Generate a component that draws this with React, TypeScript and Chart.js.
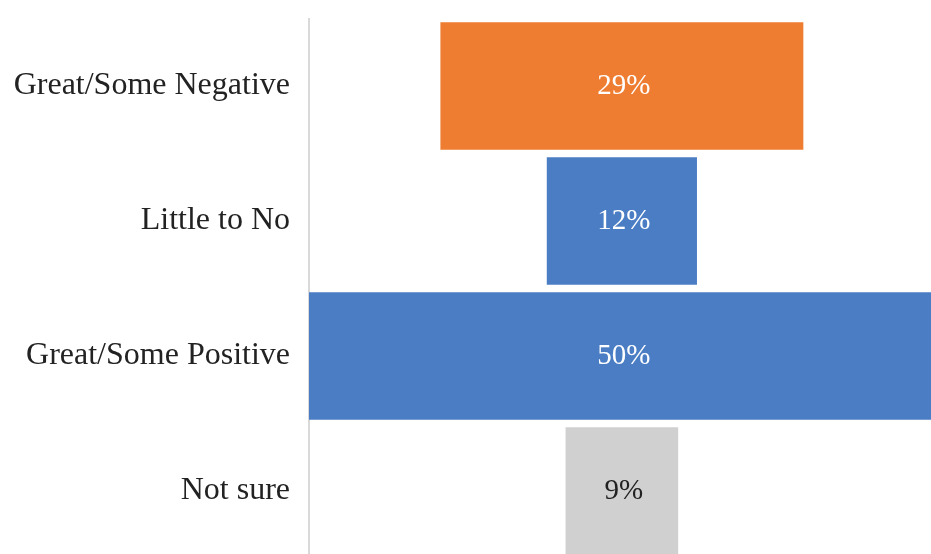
import React, { useEffect, useRef } from "react";
import { Chart, registerables } from "chart.js";

Chart.register(...registerables);

const categories = ["Great/Some Negative", "Little to No", "Great/Some Positive", "Not sure"];
const values = [29, 12, 50, 9];
const barColors = ["#EE7D31", "#4A7DC4", "#4A7DC4", "#D0D0D0"];
const labelColors = ["#FFFFFF", "#FFFFFF", "#FFFFFF", "#222222"];
const CENTER = 25;

const extendArea = {
  id: "extendArea",
  afterLayout(chart: any) {
    const bottom = 558.5;
    chart.chartArea.bottom = bottom;
    chart.chartArea.height = bottom - chart.chartArea.top;
    const y = chart.scales.y;
    y.bottom = bottom;
    y.height = bottom - y.top;
    y.configure();
    const x = chart.scales.x;
    x.configure();
  },
};

const valueLabels = {
  id: "valueLabels",
  afterDatasetsDraw(chart: any) {
    const ctx = chart.ctx;
    const meta = chart.getDatasetMeta(0);
    ctx.save();
    ctx.font = "29px 'Liberation Serif', serif";
    ctx.textAlign = "center";
    ctx.textBaseline = "middle";
    meta.data.forEach((bar: any, i: number) => {
      ctx.fillStyle = labelColors[i];
      ctx.fillText(values[i] + "%", bar.x - (bar.x - bar.base) / 2 + 2, bar.y);
    });
    ctx.restore();
  },
};

export default function App() {
  const ref = useRef<HTMLCanvasElement | null>(null);
  useEffect(() => {
    if (!ref.current) return;
    const chart = new Chart(ref.current, {
      type: "bar",
      data: {
        labels: categories,
        datasets: [
          {
            data: values.map((v) => [CENTER - v / 2, CENTER + v / 2]) as any,
            backgroundColor: barColors,
            borderWidth: 0,
            barPercentage: 0.945,
            categoryPercentage: 1,
          },
        ],
      },
      options: {
        indexAxis: "y",
        animation: false,
        responsive: false,
        layout: { padding: { top: 18.5, bottom: 0, left: 0, right: 0 } },
        plugins: { legend: { display: false }, tooltip: { enabled: false } },
        scales: {
          x: { display: false, min: 0, max: 49.7 },
          y: {
            afterFit: (s: any) => {
              s.width = 309;
              s.paddingTop = 0;
              s.paddingBottom = 0;
            },
            grid: { display: true, color: "rgba(0,0,0,0)", drawTicks: false },
            border: { display: true, color: "#D9D9D9", width: 2 },
            ticks: {
              padding: 19,
              color: "#222222",
              font: { family: "'Liberation Serif', serif", size: 32, lineHeight: 0.02 },
            },
          },
        },
      },
      plugins: [extendArea, valueLabels],
    });
    return () => chart.destroy();
  }, []);
  return (
    <div style={{ position: "absolute", left: 0, top: 0, width: 931, height: 554, background: "#fff" }}>
      <canvas ref={ref} width={931} height={554} style={{ display: "block" }} />
    </div>
  );
}
